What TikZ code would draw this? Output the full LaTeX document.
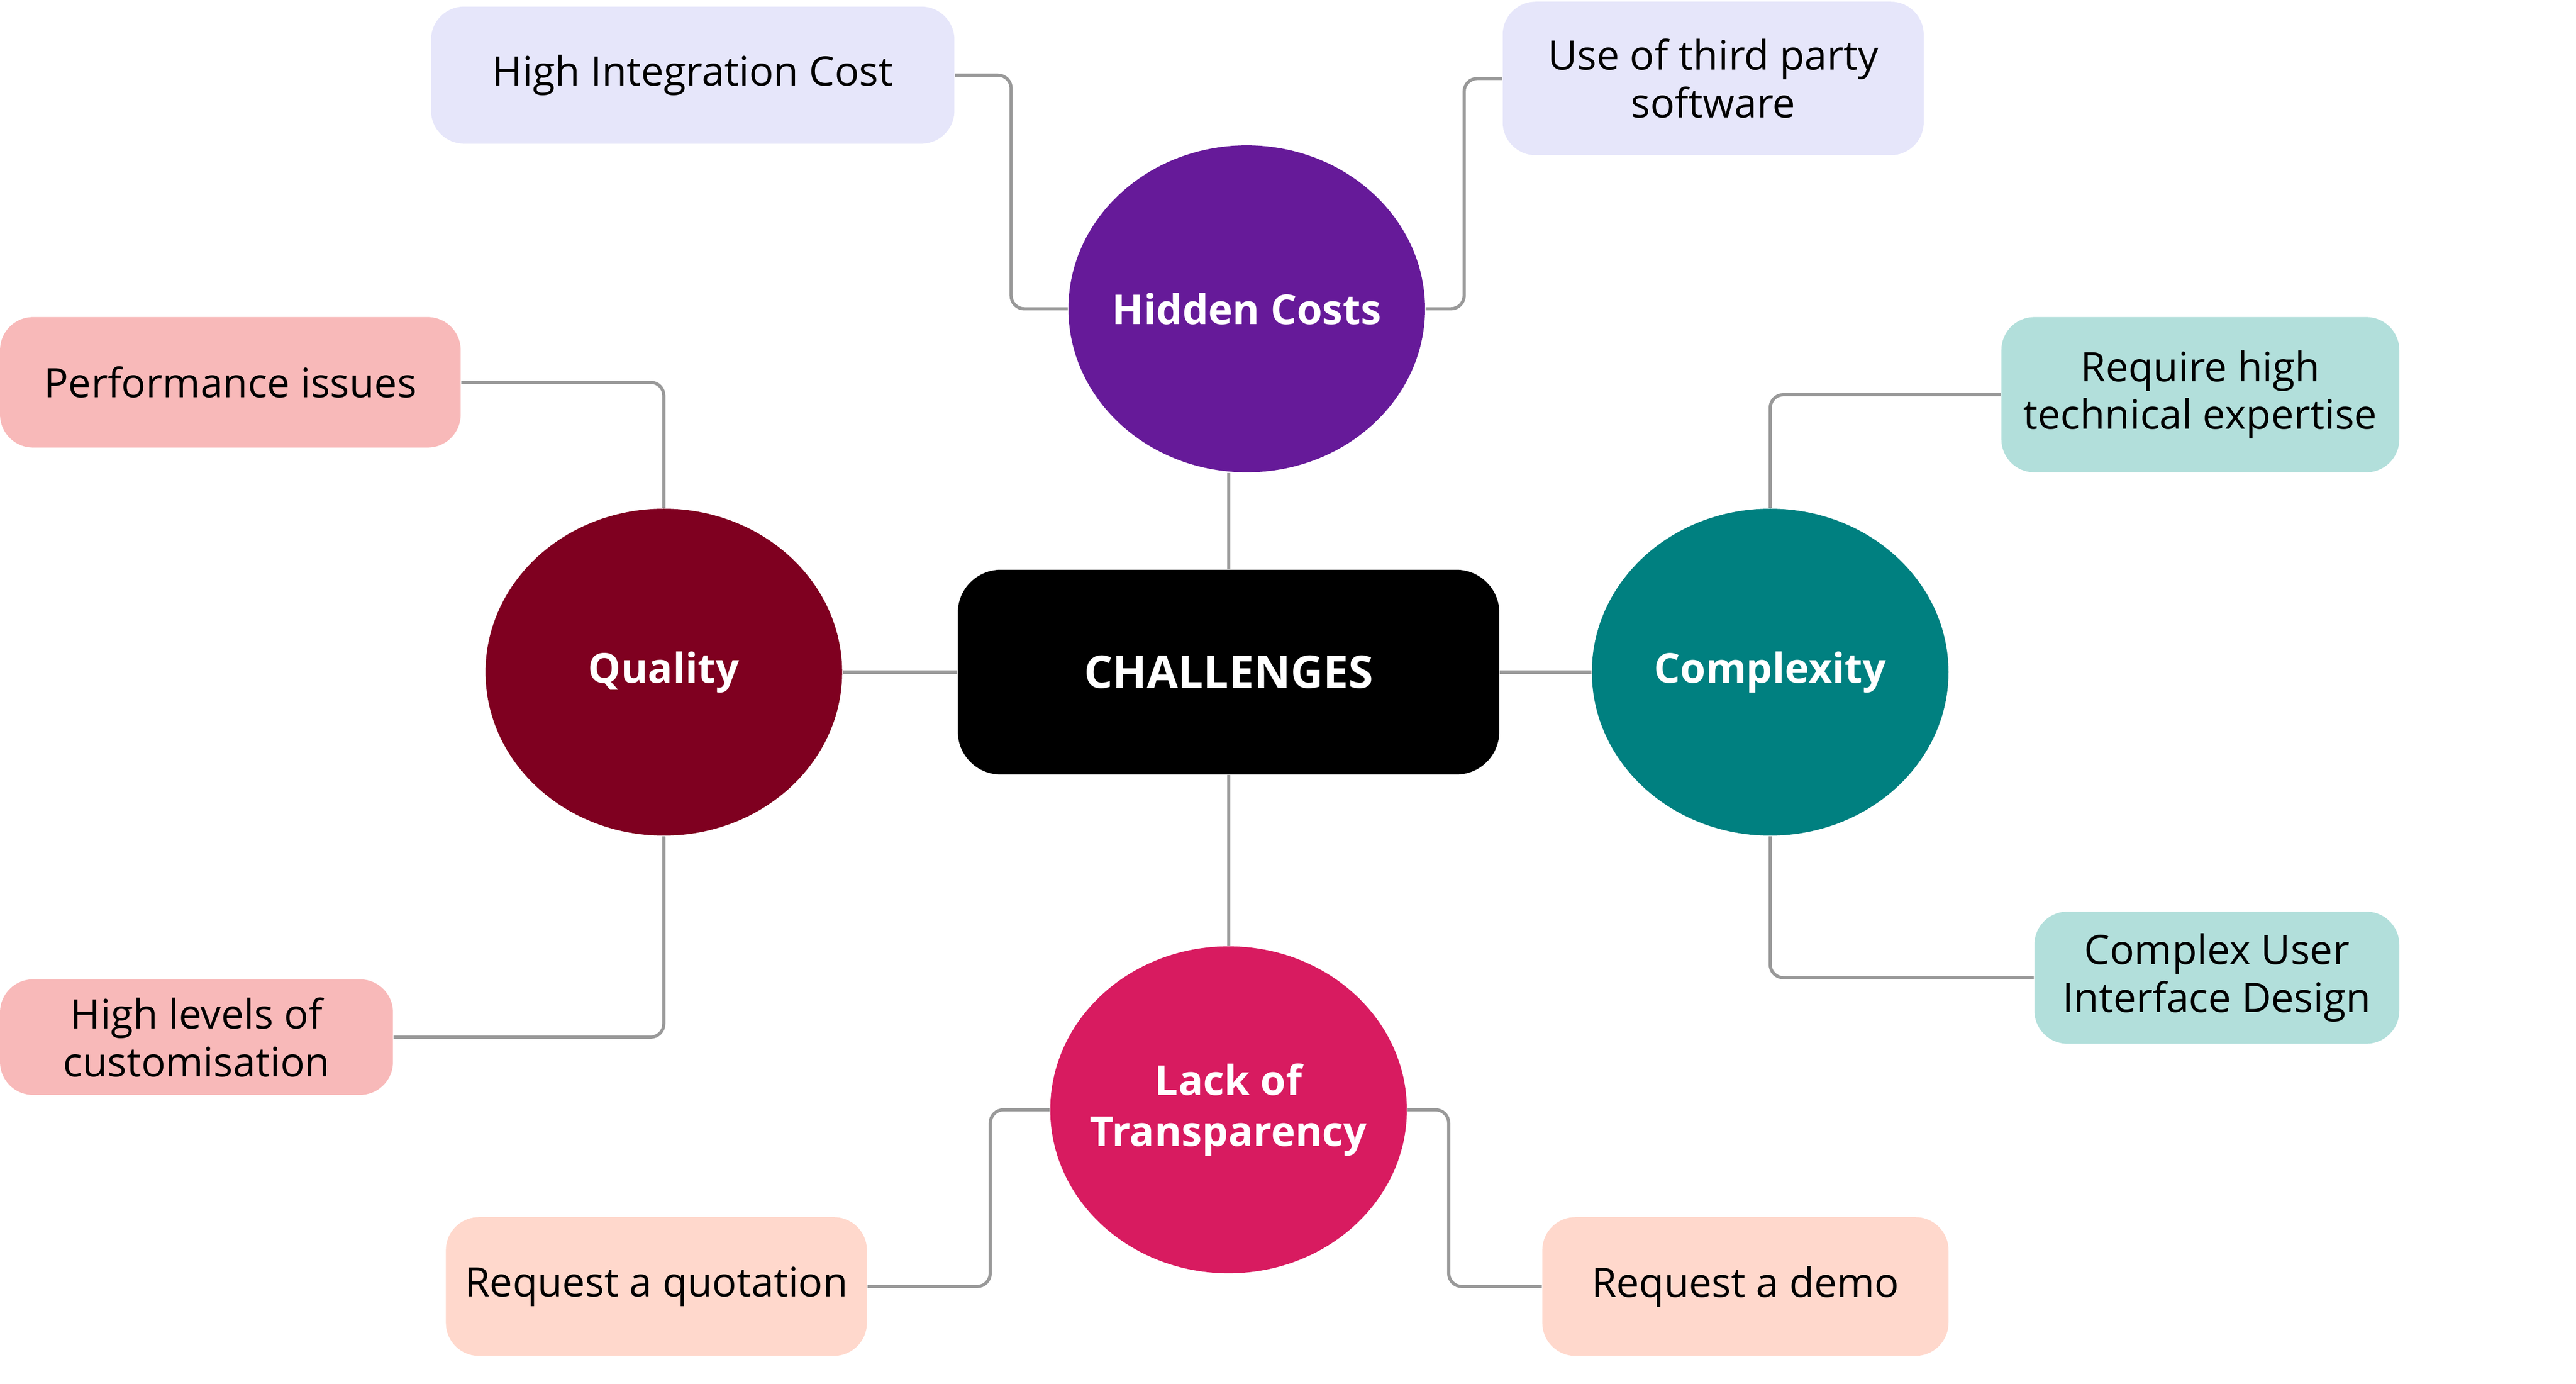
\documentclass[tikz,border=0pt]{standalone}
\usepackage{fontspec}
\setmainfont{Open Sans}
\usetikzlibrary{shapes.geometric,backgrounds}
\definecolor{hidcol}{HTML}{661A99}
\definecolor{qualcol}{HTML}{7F0020}
\definecolor{compcol}{HTML}{008080}
\definecolor{lackcol}{HTML}{D81B60}
\definecolor{lavcol}{HTML}{E6E6FA}
\definecolor{pinkcol}{HTML}{F8B9B9}
\definecolor{mintcol}{HTML}{B2DFDB}
\definecolor{peachcol}{HTML}{FFD8CC}
\definecolor{linecol}{HTML}{999999}
\begin{document}
\begin{tikzpicture}[x=0.02cm, y=-0.02cm]
        \tikzstyle{hub} = [rectangle, rounded corners=0.52cm, minimum width=6.56cm, minimum height=2.48cm, fill=black, text=white, font=\fontsize{15.5}{18}\selectfont\bfseries]
        \tikzstyle{topic} = [ellipse, inner sep=0pt, minimum width=4.32cm, minimum height=3.96cm]
        \tikzstyle{topictext} = [text=white, align=center, font=\fontsize{14.2}{17.6}\selectfont\bfseries]
        \tikzstyle{leaf} = [rectangle, rounded corners=0.4cm, inner sep=0pt, align=center, text=black, font=\fontsize{14}{16.5}\selectfont]
        \tikzstyle{link} = [draw=linecol, line width=1.1pt, rounded corners=0.16cm]
        \useasboundingbox (0,0) rectangle (1560,838);
        \node (chal) [hub] at (744, 407) {CHALLENGES};
        \node (hid) [topic, fill=hidcol, label={[topictext]center:Hidden Costs}] at (755, 187) {};
        \node (qual) [topic, fill=qualcol, label={[topictext]center:Quality}] at (402, 407) {};
        \node (comp) [topic, fill=compcol, label={[topictext]center:Complexity}] at (1072, 407) {};
        \node (lack) [topic, fill=lackcol, label={[topictext]center:Lack of\\Transparency}] at (744, 672) {};
        \node (integ) [leaf, fill=lavcol, minimum width=6.34cm, minimum height=1.66cm] at (419.5, 45.5) {High Integration Cost};
        \node (third) [leaf, fill=lavcol, minimum width=5.1cm, minimum height=1.86cm] at (1037.5, 47.5) {Use of third party\\software};
        \node (perf) [leaf, fill=pinkcol, minimum width=5.58cm, minimum height=1.58cm] at (139.5, 231.5) {Performance issues};
        \node (custom) [leaf, fill=pinkcol, minimum width=4.76cm, minimum height=1.4cm] at (119, 628) {High levels of\\customisation};
        \node (expert) [leaf, fill=mintcol, minimum width=4.82cm, minimum height=1.88cm] at (1332.5, 239) {Require high\\technical expertise};
        \node (ui) [leaf, fill=mintcol, minimum width=4.42cm, minimum height=1.6cm] at (1342.5, 592) {Complex User\\Interface Design};
        \node (quote) [leaf, fill=peachcol, minimum width=5.1cm, minimum height=1.68cm] at (397.5, 779) {Request a quotation};
        \node (demo) [leaf, fill=peachcol, minimum width=4.92cm, minimum height=1.68cm] at (1057, 779) {Request a demo};
        \begin{scope}[on background layer]
        \draw[link] (chal.north) -- (chal.north |- hid.south);
        \draw[link] (qual.east) -- (chal.west);
        \draw[link] (chal.east) -- (comp.west);
        \draw[link] (chal.south) -- (lack.north);
        \draw[link] (integ.east) -- ++(34, 0) |- (hid.west);
        \draw[link] (third.west) -- ++(-23, 0) |- (hid.east);
        \draw[link] (perf.east) -| (qual.north);
        \draw[link] (qual.south) |- (custom.east);
        \draw[link] (comp.north) |- (expert.west);
        \draw[link] (comp.south) |- (ui.west);
        \draw[link] (lack.west) -- ++(-36, 0) |- (quote.east);
        \draw[link] (lack.east) -- ++(25, 0) |- (demo.west);
        \end{scope}
    \end{tikzpicture}
\end{document}
